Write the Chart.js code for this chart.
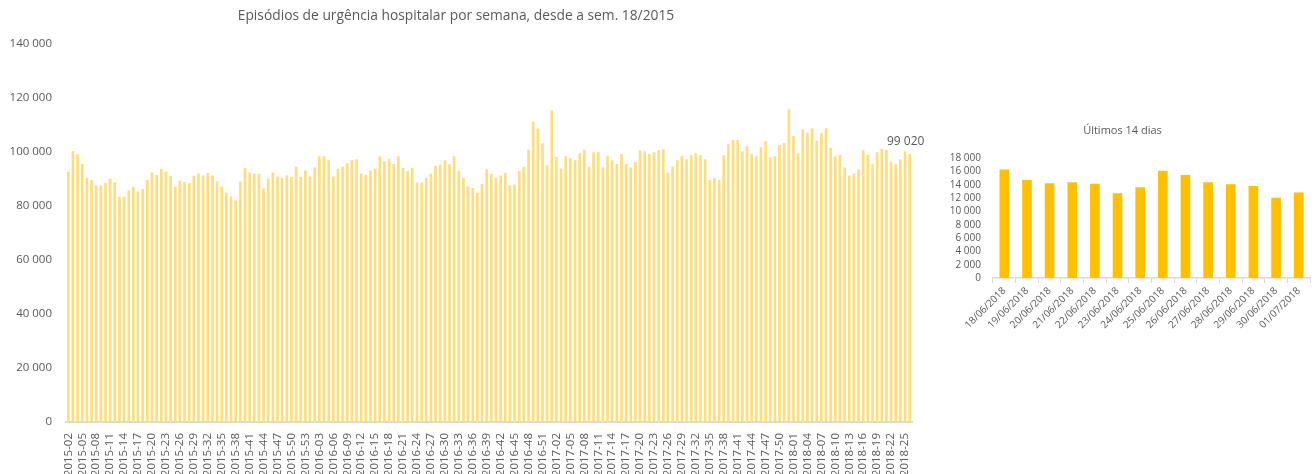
<!DOCTYPE html>
<html>
<head>
<meta charset="utf-8">
<script src="https://cdn.jsdelivr.net/npm/chart.js@4.4.1/dist/chart.umd.min.js"></script>
<style>
  html, body { margin: 0; padding: 0; background: #fff; overflow: hidden; }
  body { width: 1314px; height: 474px; position: relative; }
  #mainBox { position: absolute; left: 0; top: 0; width: 930px; height: 474px; }
  #dailyBox { position: absolute; left: 935px; top: 115px; width: 379px; height: 225px; }
</style>
</head>
<body>
<div id="mainBox"><canvas id="weeklyChart"></canvas></div>
<div id="dailyBox"><canvas id="dailyChart"></canvas></div>
<script>
// Weekly episodes, 2015-02 .. 2018-26
const weekYears = [2015, 2016, 2017, 2018];
const weekCounts = { 2015: 53, 2016: 52, 2017: 52, 2018: 26 };
const weekLabels = [];
weekYears.forEach(function (y) {
    const first = y === 2015 ? 2 : 1;
    for (let w = first; w <= weekCounts[y]; w++) {
        weekLabels.push(y + '-' + String(w).padStart(2, '0'));
    }
});

const weeklyEpisodes = [
    92480, 100100, 98900, 95440, 90100, 89380, 87400, 87500, 88260, 89740,
    88630, 83200, 83200, 85560, 86780, 85190, 86040, 89380, 92220, 91230,
    93450, 92590, 91000, 86900, 89260, 88630, 88260, 91000, 91850, 91110,
    91970, 91110, 88890, 87040, 84700, 83200, 81850, 88890, 93820, 92220,
    91730, 91730, 86300, 90000, 92220, 90740, 90100, 91110, 90490, 94310,
    90490, 92960, 90740, 94070, 98150, 98150, 96670, 90740, 93580, 94310,
    95560, 96670, 97040, 91850, 91360, 92960, 93580, 98150, 96300, 97160,
    95310, 98150, 93820, 92710, 93820, 88520, 88520, 90100, 91730, 94560,
    95070, 96670, 95190, 98150, 92960, 90100, 87040, 86410, 84700, 87900,
    93330, 91730, 90100, 91110, 91970, 87500, 87780, 92710, 94310, 100620,
    111000, 108400, 102960, 94810, 115190, 97900, 93700, 98150, 97410, 96670,
    99260, 100620, 94310, 99630, 99750, 94070, 98150, 96670, 95310, 99010,
    95310, 94070, 96050, 100370, 100000, 99010, 99630, 100370, 100740, 92220,
    94440, 96670, 98150, 97040, 98520, 99260, 98520, 97040, 89380, 90100,
    89380, 98520, 102590, 104190, 104190, 100000, 101850, 98900, 98150, 101480,
    103700, 97780, 98150, 102350, 103090, 115560, 105680, 99260, 108150, 106910,
    108520, 103950, 106790, 108520, 101360, 98150, 98770, 94070, 91110, 91850,
    93330, 100370, 98770, 95190, 99750, 101000, 100490, 96180, 95190, 97040,
    100000, 99020
];

// Last 14 days
const dayLabels = [
    '18/06/2018', '19/06/2018', '20/06/2018', '21/06/2018', '22/06/2018',
    '23/06/2018', '24/06/2018', '25/06/2018', '26/06/2018', '27/06/2018',
    '28/06/2018', '29/06/2018', '30/06/2018', '01/07/2018'
];
const dailyEpisodes = [
    16270, 14670, 14180, 14330, 14120, 12690, 13580,
    16060, 15420, 14330, 14030, 13780, 11990, 12780
];

const textColor = '#595959';
const axisColor = '#D9D9D9';
Chart.defaults.font.family = '"Open Sans", sans-serif';
Chart.defaults.color = textColor;

function fmt(v) {
    return String(v).replace(/\B(?=(\d{3})+(?!\d))/g, ' ');
}

// label on the last weekly bar
const lastLabel = {
    id: 'lastLabel',
    afterDatasetsDraw(chart) {
        const meta = chart.getDatasetMeta(0);
        const bar = meta.data[meta.data.length - 1];
        const ctx = chart.ctx;
        ctx.save();
        ctx.font = '12px "Open Sans", sans-serif';
        ctx.fillStyle = textColor;
        ctx.textAlign = 'center';
        ctx.textBaseline = 'alphabetic';
        ctx.fillText(fmt(weeklyEpisodes[weeklyEpisodes.length - 1]), bar.x - 4, bar.y - 9);
        ctx.restore();
    }
};

const weeklyCtx = document.getElementById('weeklyChart').getContext('2d');
new Chart(weeklyCtx, {
    type: 'bar',
    data: {
        labels: weekLabels,
        datasets: [{
            data: weeklyEpisodes,
            backgroundColor: '#FFDE7A',
            barThickness: 2
        }]
    },
    options: {
        responsive: true,
        maintainAspectRatio: false,
        animation: false,
        layout: { padding: { left: 0, right: 18, top: 0, bottom: 0 } },
        plugins: {
            legend: { display: false },
            tooltip: { enabled: false },
            title: {
                display: true,
                text: 'Episódios de urgência hospitalar por semana, desde a sem. 18/2015',
                color: textColor,
                font: { size: 13.8, weight: 'normal' },
                padding: { top: 8, bottom: 19 }
            }
        },
        scales: {
            y: {
                min: 0,
                max: 140000,
                ticks: {
                    stepSize: 20000,
                    padding: 6,
                    font: { size: 11.5 },
                    callback: function (v) { return fmt(v); }
                },
                grid: { display: false },
                border: { display: false },
                afterFit: function (scale) { scale.width = 66; }
            },
            x: {
                ticks: {
                    autoSkip: false,
                    minRotation: 90,
                    maxRotation: 90,
                    padding: 3,
                    font: { size: 11.5 },
                    callback: function (v, i) { return i % 3 === 0 ? weekLabels[i] : ''; }
                },
                grid: { display: false },
                border: { color: axisColor, width: 2 },
                afterFit: function (scale) { scale.height = 52; }
            }
        }
    },
    plugins: [lastLabel]
});

const dailyCtx = document.getElementById('dailyChart').getContext('2d');
new Chart(dailyCtx, {
    type: 'bar',
    data: {
        labels: dayLabels,
        datasets: [{
            data: dailyEpisodes,
            backgroundColor: '#FFC000',
            barThickness: 9
        }]
    },
    options: {
        responsive: true,
        maintainAspectRatio: false,
        animation: false,
        layout: { padding: { left: 0, right: 4, top: 0, bottom: 0 } },
        plugins: {
            legend: { display: false },
            tooltip: { enabled: false },
            title: {
                display: true,
                text: 'Últimos 14 dias',
                color: textColor,
                font: { size: 11, weight: 'normal' },
                padding: { top: 9, bottom: 21 }
            }
        },
        scales: {
            y: {
                min: 0,
                max: 18000,
                ticks: {
                    stepSize: 2000,
                    autoSkip: false,
                    padding: 4,
                    font: { size: 10 },
                    callback: function (v) { return fmt(v); }
                },
                grid: { display: false },
                border: { display: false },
                afterFit: function (scale) { scale.width = 58; }
            },
            x: {
                ticks: {
                    autoSkip: false,
                    minRotation: 45,
                    maxRotation: 45,
                    padding: 2,
                    font: { size: 10 }
                },
                grid: {
                    display: true,
                    drawOnChartArea: false,
                    offset: true,
                    tickLength: 5,
                    color: axisColor
                },
                border: { color: axisColor, width: 1.5 },
                afterFit: function (scale) { scale.height = 62; }
            }
        }
    }
});
</script>
</body>
</html>
